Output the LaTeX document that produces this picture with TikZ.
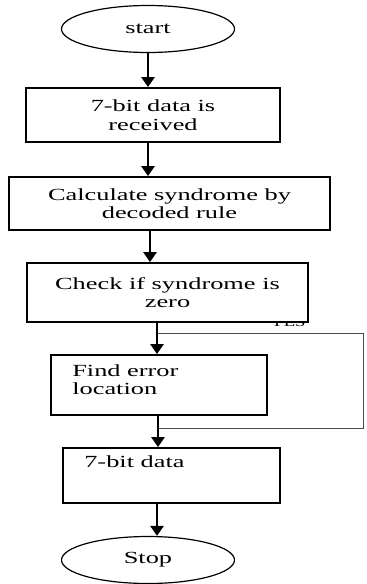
\documentclass[tikz,border=0pt]{standalone}
\usepackage{fontspec}
\setmainfont{Liberation Serif}[FakeStretch=1.55]
\usetikzlibrary{arrows.meta,shapes.geometric,positioning}

\begin{document}
\begin{tikzpicture}[
    x=1pt,y=-1pt,
    txt/.style={font=\fontsize{17}{18.5}\selectfont},
    term/.style={draw,ellipse,line width=1.2pt,minimum width=173pt,
                 minimum height=47pt,inner sep=0pt,txt},
    box/.style={draw,line width=1.8pt,fill=white,inner sep=0pt,
                txt,align=center},
    arr/.style={-{Triangle[length=10pt,width=13pt]},line width=2.6pt},
    back/.style={draw=black!70,line width=0.9pt},
  ]
  \useasboundingbox (0,0) rectangle (367,584);
  % terminals and steps
  \node[term](start) at (148,29){start};
  \node[box,minimum width=254pt,minimum height=54pt](recv) at (153,115)
    {7-bit data is\\received};
  \node[box,minimum width=321pt,minimum height=53pt](calc) at (169.5,203.5)
    {Calculate syndrome by\\decoded rule};
  \node[font=\fontsize{12}{12}\selectfont](yes) at (288,323){YES};
  \node[box,minimum width=281pt,minimum height=59pt](check) at (167.5,292.5)
    {Check if syndrome is\\zero};
  \node[box,minimum width=216pt,minimum height=60pt](find) at (159,385){};
  \node[txt,anchor=north west,align=left,inner sep=0pt](findtxt)
    at ([shift={(22,10)}]find.north west){Find error\\location};
  \node[box,minimum width=217pt,minimum height=55pt](data) at (171.5,475.5){};
  \node[txt,anchor=north west,inner sep=0pt](datatxt)
    at ([shift={(22,8)}]data.north west){7-bit data};
  \node[term](stop) at (148,560){Stop};
  % bypass line
  \coordinate (j1) at (157,333);
  \coordinate (yesR) at (363,333);
  \coordinate (yesB) at (363,428);
  \coordinate (j2) at (158,428);
  \draw[back](j1)--(yesR)--(yesB)--(j2);
  % flow
  \draw[arr](start.south)--(start.south |- recv.north);
  \draw[arr]([xshift=-5pt]recv.south)--([xshift=-5pt]recv.south |- calc.north);
  \draw[arr]([xshift=-19.5pt]calc.south)--([xshift=-19.5pt]calc.south |- check.north);
  \draw[arr]([xshift=-10.5pt]check.south)--([xshift=-10.5pt]check.south |- find.north);
  \draw[arr]([xshift=-1pt]find.south)--([xshift=-1pt]find.south |- data.north);
  \draw[arr]([xshift=-14.5pt]data.south)--([xshift=-14.5pt]data.south |- stop.north);
\end{tikzpicture}
\end{document}
